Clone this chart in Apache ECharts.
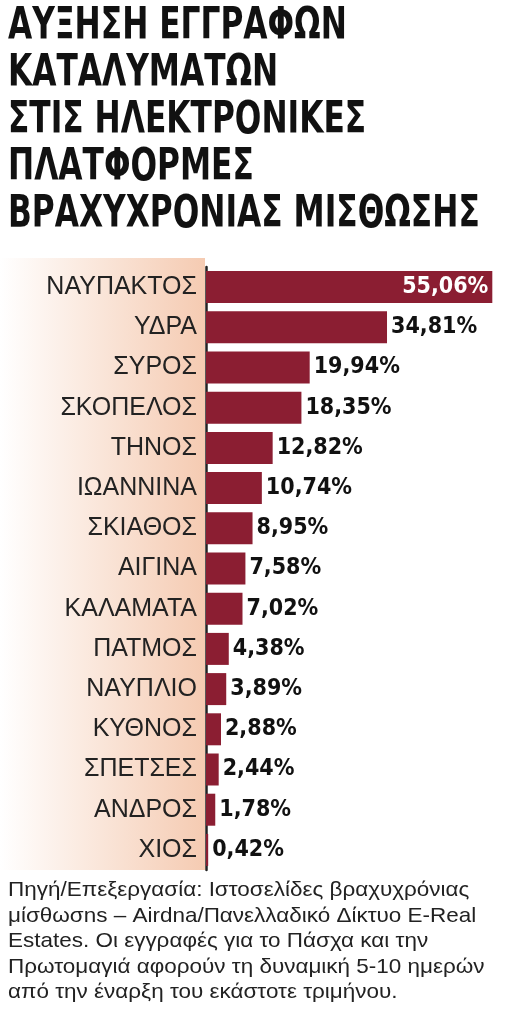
<!DOCTYPE html>
<html lang="el">
<head>
<meta charset="UTF-8">
<title>Αύξηση εγγραφών</title>
<script src="https://cdn.jsdelivr.net/npm/echarts@6/dist/echarts.min.js"></script>
<style>html,body{margin:0;padding:0;background:#fff}#main{width:524px;height:1024px}</style>
</head>
<body>
<div id="main"></div>
<script>
// δεδομένα
var places = ['ΝΑΥΠΑΚΤΟΣ','ΥΔΡΑ','ΣΥΡΟΣ','ΣΚΟΠΕΛΟΣ','ΤΗΝΟΣ','ΙΩΑΝΝΙΝΑ','ΣΚΙΑΘΟΣ','ΑΙΓΙΝΑ','ΚΑΛΑΜΑΤΑ','ΠΑΤΜΟΣ','ΝΑΥΠΛΙΟ','ΚΥΘΝΟΣ','ΣΠΕΤΣΕΣ','ΑΝΔΡΟΣ','ΧΙΟΣ'];
var growth = [55.06,34.81,19.94,18.35,12.82,10.74,8.95,7.58,7.02,4.38,3.89,2.88,2.44,1.78,0.42];
var titleLines = ['ΑΥΞΗΣΗ ΕΓΓΡΑΦΩΝ','ΚΑΤΑΛΥΜΑΤΩΝ','ΣΤΙΣ ΗΛΕΚΤΡΟΝΙΚΕΣ','ΠΛΑΤΦΟΡΜΕΣ','ΒΡΑΧΥΧΡΟΝΙΑΣ ΜΙΣΘΩΣΗΣ'];
var noteLines = ['Πηγή/Επεξεργασία: Ιστοσελίδες βραχυχρόνιας','μίσθωσns – Airdna/Πανελλαδικό Δίκτυο E-Real','Estates. Οι εγγραφές για το Πάσχα και την','Πρωτομαγιά αφορούν τη δυναμική 5-10 ημερών','από την έναρξη του εκάστοτε τριμήνου.'];

var chart = echarts.init(document.getElementById('main'));
var graphics = [{
  type:'rect', z:-1, shape:{x:0,y:258,width:205,height:612},
  style:{fill:new echarts.graphic.LinearGradient(0,0,1,0,[{offset:0,color:'#ffffff'},{offset:1,color:'#f5cbb2'}])}
}];
titleLines.forEach(function(t,i){
  graphics.push({type:'text',x:8,y:6+i*47,scaleX:0.79,
    style:{text:t,font:'bold 44px "DejaVu Sans Condensed", sans-serif',fill:'#111'}});
});
noteLines.forEach(function(t,i){
  graphics.push({type:'text',x:8,y:880+i*25.5,scaleX:1.07,
    style:{text:t,font:'21px "Liberation Sans", Arial, sans-serif',fill:'#222'}});
});

chart.setOption({
  animation:false,
  grid:{left:206,top:267,width:312,height:603},
  xAxis:{type:'value',min:0,max:60,show:false},
  yAxis:{type:'category',inverse:true,data:places,
    axisLine:{show:true,lineStyle:{color:'#222',width:2.5}},
    axisTick:{show:false},
    axisLabel:{margin:9,color:'#222',fontSize:25,fontFamily:'"Liberation Sans", Arial, sans-serif'}},
  series:[{
    type:'bar',barWidth:32,
    itemStyle:{color:'#8b1e32'},
    data:growth.map(function(v,i){
      var d={value:v};
      if(i===0) d.label={position:'insideRight',color:'#fff'};
      return d;
    }),
    label:{show:true,position:'right',distance:4,color:'#111',fontSize:23,fontWeight:'bold',
      fontFamily:'"DejaVu Sans Condensed", sans-serif',
      formatter:function(p){return p.value.toFixed(2).replace('.',',')+'%';}}
  }],
  graphic:graphics
});
</script>
</body>
</html>
